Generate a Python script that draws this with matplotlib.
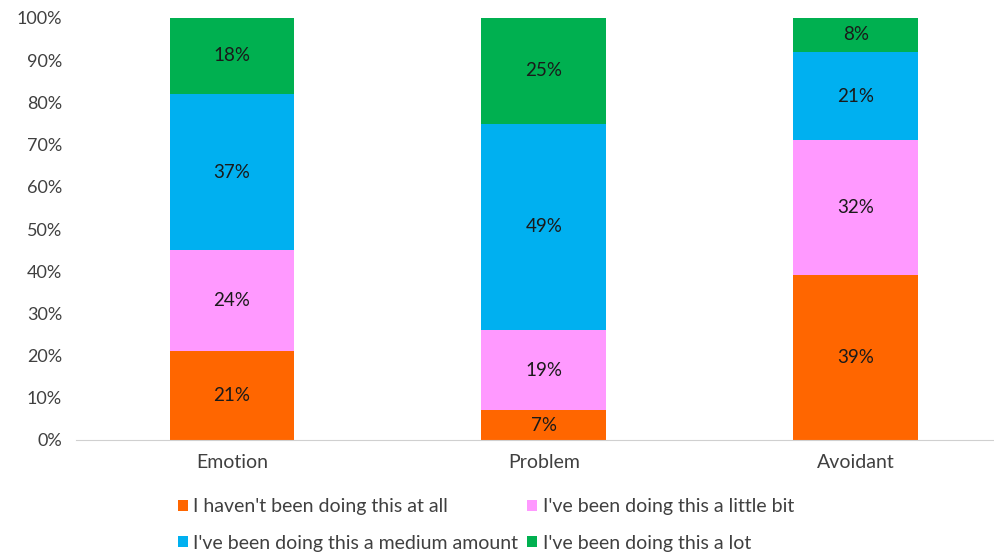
import matplotlib.pyplot as plt
import numpy as np

categories = ['Emotion', 'Problem', 'Avoidant']
series_names = ["I haven't been doing this at all",
                "I've been doing this a little bit",
                "I've been doing this a medium amount",
                "I've been doing this a lot"]
not_at_all = [21, 7, 39]
little_bit = [24, 19, 32]
medium = [37, 49, 21]
a_lot = [18, 25, 8]
colors = ['#FF6600', '#FF99FF', '#00B0F0', '#00B050']

plt.rcParams['font.family'] = ['Lato', 'DejaVu Sans']

fig = plt.figure(figsize=(9.95, 5.56), dpi=100)
ax = fig.add_axes([76 / 995, 1 - 440 / 556, (993 - 76) / 995, (440 - 18) / 556])

x = np.arange(len(categories))
bottom = np.zeros(len(categories))
bars = []
for name, vals, c in zip(series_names, [not_at_all, little_bit, medium, a_lot], colors):
    b = ax.bar(x, vals, 0.4, bottom=bottom, color=c, label=name)
    bars.append(b)
    for xi, v, bt in zip(x, vals, bottom):
        ax.text(xi, bt + v / 2, f'{v}%', ha='center', va='center',
                fontsize=13.5, color='#1a1a1a')
    bottom += np.array(vals)

ax.set_xlim(-0.5, 2.44)
ax.set_ylim(0, 100)
ax.set_yticks(range(0, 101, 10))
ax.set_yticklabels([f'{t}%' for t in range(0, 101, 10)])
ax.set_xticks(x)
ax.set_xticklabels(categories)
ax.tick_params(axis='both', length=0, colors='#404040')
ax.tick_params(axis='y', pad=10, labelsize=13)
ax.tick_params(axis='x', pad=10, labelsize=14)
for s in ['top', 'right', 'left']:
    ax.spines[s].set_visible(False)
ax.spines['bottom'].set_color('#d0d0d0')

order = [0, 2, 1, 3]
fig.legend([bars[i] for i in order], [series_names[i] for i in order],
           ncol=2, loc='center', bbox_to_anchor=(486 / 995, 1 - 525 / 556),
           frameon=False, fontsize=14, handlelength=0.5, handleheight=0.5,
           handletextpad=0.3, columnspacing=0.45, labelspacing=1.0,
           labelcolor='#404040', borderpad=0.2)

fig.savefig('out.png', dpi=100)
